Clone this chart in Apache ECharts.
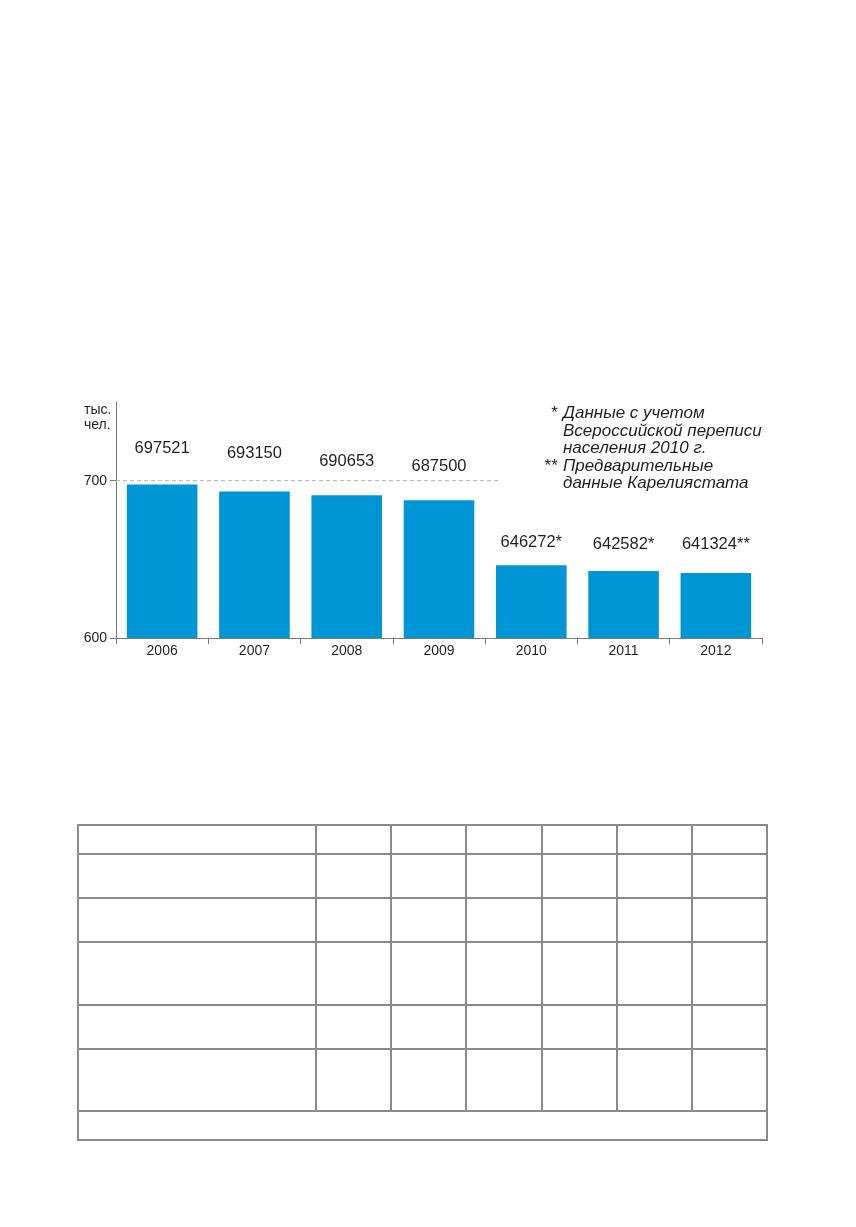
<!DOCTYPE html>
<html>
<head>
<meta charset="utf-8">
<title>Численность населения</title>
<script src="https://cdn.jsdelivr.net/npm/echarts@6/dist/echarts.min.js"></script>
<style>
  html, body { margin: 0; padding: 0; background: #fff; }
  #chart { position: absolute; left: 0; top: 0; width: 856px; height: 1227px; }
  #tbl {
    position: absolute; left: 77px; top: 824px;
    border-collapse: collapse; table-layout: fixed;
  }
  #tbl td { border: 2px solid #8a8a8a; padding: 0; }
</style>
</head>
<body>
<div id="chart"></div>
<table id="tbl">
  <colgroup>
    <col style="width:238px"><col style="width:75px"><col style="width:75px">
    <col style="width:76px"><col style="width:75px"><col style="width:75px"><col style="width:75px">
  </colgroup>
  <tr style="height:29px"><td></td><td></td><td></td><td></td><td></td><td></td><td></td></tr>
  <tr style="height:44px"><td></td><td></td><td></td><td></td><td></td><td></td><td></td></tr>
  <tr style="height:44px"><td></td><td></td><td></td><td></td><td></td><td></td><td></td></tr>
  <tr style="height:63px"><td></td><td></td><td></td><td></td><td></td><td></td><td></td></tr>
  <tr style="height:44px"><td></td><td></td><td></td><td></td><td></td><td></td><td></td></tr>
  <tr style="height:62px"><td></td><td></td><td></td><td></td><td></td><td></td><td></td></tr>
  <tr style="height:29px"><td colspan="7"></td></tr>
</table>
<script>
// годы и численность населения (человек)
var years = ['2006', '2007', '2008', '2009', '2010', '2011', '2012'];
var population = [697521, 693150, 690653, 687500, 646272, 642582, 641324];
var marks = ['', '', '', '', '*', '*', '**'];

// ось: тыс. чел.
var yTicks = [600, 700];
var refLevel = 700;
var refSpan = [0, 4.17]; // пунктир от начала оси до середины 2010

var notes = [
  ['*', 'Данные с учетом'],
  ['', 'Всероссийской переписи'],
  ['', 'населения 2010 г.'],
  ['**', 'Предварительные'],
  ['', 'данные Карелиястата']
];

// отступ подписи над столбцом
var labelGap = [28, 29, 25, 25, 14, 18, 20];

var FONT = '"Liberation Sans", Arial, Helvetica, sans-serif';
var TXT = '#231f20';
var AX = '#7a7a7a';

var chart = echarts.init(document.getElementById('chart'));

var barData = population.map(function (v, i) {
  return {
    value: v / 1000,
    label: { distance: labelGap[i] }
  };
});

var noteGraphics = [];
notes.forEach(function (n, i) {
  var y = 413.5 + i * 17.5;
  if (n[0]) {
    noteGraphics.push({
      type: 'text', x: 557, y: y,
      style: { text: n[0], font: 'italic 17px ' + FONT, fill: TXT,
               textAlign: 'right', textVerticalAlign: 'middle' }
    });
  }
  noteGraphics.push({
    type: 'text', x: 563, y: y,
    style: { text: n[1], font: 'italic 17px ' + FONT, fill: TXT,
             textAlign: 'left', textVerticalAlign: 'middle' }
  });
});

var option = {
  animation: false,
  backgroundColor: '#fff',
  grid: { left: 116, right: 94, top: 402, bottom: 589 },
  graphic: [
    {
      type: 'text', left: 84, top: 402,
      style: { text: 'тыс.\nчел.', font: '14px ' + FONT, fill: TXT, lineHeight: 15.5 }
    }
  ].concat(noteGraphics),
  xAxis: [
    {
      type: 'category',
      data: years,
      axisLine: { lineStyle: { color: AX, width: 1 } },
      axisTick: { show: true, length: 6, lineStyle: { color: AX } },
      axisLabel: { color: TXT, fontSize: 14, fontFamily: FONT, margin: 6 }
    },
    { type: 'value', min: 0, max: 7, show: false }
  ],
  yAxis: {
    type: 'value',
    min: 600,
    max: 750,
    interval: 100,
    splitLine: { show: false },
    axisLine: { show: true, lineStyle: { color: AX, width: 1 } },
    axisTick: { show: true, length: 6, customValues: yTicks, lineStyle: { color: AX } },
    axisLabel: { customValues: yTicks, color: TXT, fontSize: 14, fontFamily: FONT, margin: 9 }
  },
  series: [
    {
      type: 'bar',
      data: barData,
      barWidth: '76.5%',
      itemStyle: { color: '#0096d6' },
      label: {
        show: true,
        position: 'top',
        color: TXT,
        fontSize: 16.5,
        fontFamily: FONT,
        formatter: function (p) {
          return population[p.dataIndex] + marks[p.dataIndex];
        }
      }
    },
    {
      type: 'line',
      xAxisIndex: 1,
      data: [[refSpan[0], refLevel], [refSpan[1], refLevel]],
      symbol: 'none',
      silent: true,
      z: 1,
      lineStyle: { color: '#b4b4b4', width: 1, type: [4, 3] }
    }
  ]
};

chart.setOption(option);
</script>
</body>
</html>
